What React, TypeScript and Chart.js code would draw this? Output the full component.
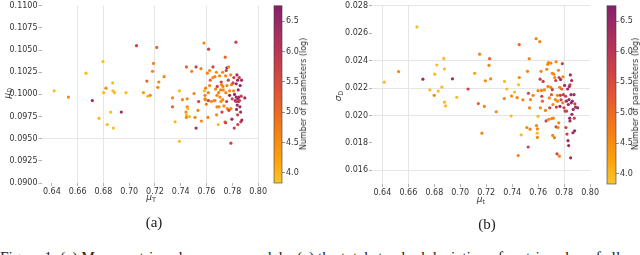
import React, { useEffect, useRef } from 'react';
import { Chart, registerables } from 'chart.js';
Chart.register(...registerables);

// ---------- data ----------
const xTicks = [0.64, 0.66, 0.68, 0.70, 0.72, 0.74, 0.76, 0.78, 0.80];
const aYTicks = [0.09, 0.0925, 0.095, 0.0975, 0.1, 0.1025, 0.105, 0.1075, 0.11];
const bYTicks = [0.016, 0.018, 0.02, 0.022, 0.024, 0.026, 0.028];
const cbTicks = [4.0, 4.5, 5.0, 5.5, 6.0, 6.5];
const cbMin = 3.835;
const cbMax = 6.755;

// (a) mean mu_T vs mu_D, colour = log10 number of parameters
const aMuT = [
  0.6418, 0.6529, 0.6665, 0.6714, 0.6766, 0.6797, 0.6802, 0.682, 0.683, 0.6856, 0.6872, 0.6874, 0.6877, 0.6887,
  0.6939, 0.6975, 0.7057, 0.7111, 0.7137, 0.7145, 0.7163, 0.7181, 0.7189, 0.7214, 0.7222, 0.723, 0.7271, 0.7336,
  0.7336, 0.7356, 0.739, 0.739, 0.7413, 0.7441, 0.7444, 0.7444, 0.7444, 0.745, 0.745, 0.7455, 0.7467, 0.7485,
  0.7503, 0.7511, 0.7519, 0.7519, 0.7534, 0.7539, 0.7557, 0.756, 0.758, 0.7583, 0.7588, 0.7588, 0.7593, 0.7598,
  0.7606, 0.7611, 0.7614, 0.7616, 0.7624, 0.7624, 0.7629, 0.765, 0.765, 0.7658, 0.7665, 0.7665, 0.767, 0.7676,
  0.7678, 0.7681, 0.7683, 0.7691, 0.7694, 0.7696, 0.7701, 0.7704, 0.7709, 0.7714, 0.7717, 0.772, 0.7725, 0.7725,
  0.7727, 0.773, 0.7735, 0.7743, 0.7745, 0.7748, 0.775, 0.7753, 0.7756, 0.7758, 0.7758, 0.7761, 0.7769, 0.7774,
  0.7779, 0.7779, 0.7787, 0.7789, 0.7789, 0.7794, 0.7797, 0.7799, 0.7805, 0.781, 0.7812, 0.7815, 0.7817, 0.7823,
  0.7828, 0.7828, 0.783, 0.783, 0.7833, 0.7836, 0.7838, 0.7841, 0.7841, 0.7843, 0.7843, 0.7846, 0.7848, 0.7851,
  0.7854, 0.7856, 0.7859, 0.7861, 0.7864, 0.7866, 0.7869, 0.7872, 0.7874, 0.7897, 0.7748, 0.7771, 0.7712, 0.7681,
  0.7637, 0.7614, 0.759,
];
const aMuD = [
  0.1004, 0.0997, 0.1024, 0.0993, 0.0973, 0.1037, 0.1002, 0.1007, 0.0966, 0.098, 0.1013, 0.1004, 0.0962, 0.1002,
  0.098, 0.1002, 0.1055, 0.1002, 0.1015, 0.0998, 0.0999, 0.1026, 0.1035, 0.1053, 0.1008, 0.1014, 0.102, 0.0996,
  0.0986, 0.0969, 0.1004, 0.0947, 0.0994, 0.098, 0.0977, 0.0974, 0.1031, 0.0995, 0.0986, 0.0984, 0.0975, 0.1026,
  0.1001, 0.0974, 0.1031, 0.0962, 0.0982, 0.0992, 0.1029, 0.097, 0.1058, 0.1004, 0.0999, 0.0995, 0.1007, 0.0989,
  0.1024, 0.0974, 0.0993, 0.1051, 0.1027, 0.101, 0.1016, 0.1019, 0.1031, 0.0993, 0.0993, 0.102, 0.1006, 0.1025,
  0.0977, 0.0986, 0.1009, 0.0966, 0.1002, 0.0986, 0.1021, 0.0997, 0.1005, 0.1014, 0.1011, 0.098, 0.1025, 0.0994,
  0.1009, 0.1005, 0.0987, 0.0969, 0.1042, 0.0968, 0.1002, 0.1027, 0.0992, 0.103, 0.101, 0.0984, 0.1016, 0.0982,
  0.1004, 0.0999, 0.1022, 0.0984, 0.0945, 0.1011, 0.0972, 0.0995, 0.1013, 0.1004, 0.1019, 0.0962, 0.1, 0.0993,
  0.0992, 0.1059, 0.1012, 0.0997, 0.0983, 0.1022, 0.0988, 0.1016, 0.0977, 0.0995, 0.0966, 0.1005, 0.0992, 0.0997,
  0.1019, 0.0993, 0.0986, 0.101, 0.098, 0.0969, 0.0998, 0.1016, 0.0971, 0.0996, 0.1021, 0.1031, 0.0992, 0.0999,
  0.0992, 0.1002, 0.0994,
];
const aLogN = [
  3.95, 4.6, 3.95, 6.4, 3.95, 3.95, 3.95, 4.6, 3.95, 3.95, 3.95, 3.95, 3.95, 3.95,
  6.3, 3.95, 5.75, 4.3, 5.1, 3.95, 4.6, 4.6, 4.6, 5.1, 4.6, 4.6, 4.6, 4.6,
  5.1, 3.95, 3.95, 3.95, 4.6, 4.6, 3.95, 4.6, 5.1, 4.6, 4.6, 3.95, 3.95, 4.6,
  4.6, 4.6, 5.75, 6.4, 4.6, 5.75, 4.6, 4.6, 4.6, 3.95, 4.6, 4.6, 4.6, 4.6,
  4.6, 4.6, 5.75, 5.75, 4.6, 4.6, 5.1, 4.6, 5.75, 4.6, 4.6, 4.6, 4.6, 4.6,
  4.6, 4.6, 5.75, 3.95, 4.6, 4.6, 4.6, 4.6, 4.6, 5.75, 4.6, 5.75, 4.6, 4.6,
  4.6, 4.6, 4.6, 4.6, 5.1, 5.75, 4.6, 5.75, 5.75, 6.4, 4.6, 4.6, 5.75, 5.75,
  4.6, 6.4, 4.6, 4.6, 5.75, 4.6, 6.4, 5.75, 5.75, 4.6, 5.75, 5.75, 6.4, 6.4,
  5.75, 5.75, 6.4, 6.4, 6.4, 6.4, 6.4, 6.4, 5.75, 6.4, 5.75, 6.4, 6.4, 6.4,
  5.75, 5.75, 6.4, 6.4, 6.4, 5.75, 5.75, 6.4, 6.4, 6.4, 4.6, 4.6, 4.6, 4.6,
  4.6, 4.6, 4.6,
];

// (b) mean mu_t vs sigma_D, colour = log10 number of parameters
const bMuT = [
  0.6415, 0.6525, 0.6666, 0.6712, 0.6766, 0.6799, 0.6804, 0.6819, 0.683, 0.6858, 0.6873, 0.6878, 0.6878, 0.6886,
  0.694, 0.6973, 0.706, 0.7111, 0.7139, 0.7149, 0.7167, 0.7185, 0.7193, 0.7221, 0.7226, 0.7234, 0.7277, 0.7341,
  0.7339, 0.7359, 0.7392, 0.7395, 0.7418, 0.7438, 0.7446, 0.7449, 0.7454, 0.7454, 0.7469, 0.7482, 0.7513, 0.7518,
  0.7523, 0.7525, 0.7531, 0.7533, 0.7538, 0.7541, 0.7561, 0.7584, 0.7587, 0.7592, 0.7594, 0.7594, 0.7599, 0.7599,
  0.7612, 0.7615, 0.7617, 0.7622, 0.7625, 0.7628, 0.7633, 0.7638, 0.7648, 0.7656, 0.7661, 0.7666, 0.7674, 0.7676,
  0.7679, 0.7681, 0.7686, 0.7689, 0.7697, 0.7699, 0.7702, 0.7704, 0.7709, 0.7709, 0.7712, 0.7714, 0.7717, 0.772,
  0.7725, 0.7727, 0.7732, 0.7735, 0.7738, 0.7738, 0.774, 0.7745, 0.7748, 0.775, 0.7753, 0.7756, 0.7758, 0.7761,
  0.7763, 0.7766, 0.7768, 0.7771, 0.7773, 0.7776, 0.7781, 0.7786, 0.7789, 0.7791, 0.7794, 0.7799, 0.7804, 0.7807,
  0.7812, 0.7814, 0.7817, 0.7819, 0.7822, 0.7827, 0.783, 0.7832, 0.7835, 0.7837, 0.784, 0.7843, 0.7845, 0.7848,
  0.785, 0.7853, 0.7855, 0.7858, 0.786, 0.7863, 0.7868, 0.787, 0.7876, 0.7878, 0.7881, 0.7883, 0.7888, 0.7904,
  0.7845,
];
const bSigmaD = [
  0.02243, 0.0232, 0.02646, 0.02265, 0.02186, 0.02147, 0.02301, 0.02368, 0.02178, 0.02207, 0.02416, 0.02339, 0.02097, 0.0207,
  0.02267, 0.02133, 0.02193, 0.02308, 0.02087, 0.02447, 0.01871, 0.02066, 0.02253, 0.02366, 0.02414, 0.02267, 0.02027, 0.02248,
  0.02123, 0.02193, 0.01996, 0.02142, 0.02171, 0.0213, 0.01708, 0.02224, 0.02517, 0.02277, 0.01859, 0.02114, 0.01912, 0.02322,
  0.0177, 0.02162, 0.02414, 0.02056, 0.019, 0.02116, 0.02147, 0.0256, 0.01926, 0.01871, 0.0184, 0.01902, 0.02181, 0.01994,
  0.02538, 0.02265, 0.02056, 0.02322, 0.02183, 0.0214, 0.02104, 0.02248, 0.02186, 0.02037, 0.0196, 0.02337, 0.02373, 0.02212,
  0.02385, 0.01972, 0.02128, 0.02056, 0.02205, 0.02382, 0.02152, 0.01977, 0.02308, 0.02188, 0.01854, 0.0208, 0.0198, 0.02301,
  0.01838, 0.02277, 0.02116, 0.02255, 0.01917, 0.02392, 0.02061, 0.0172, 0.02147, 0.02104, 0.01912, 0.0233, 0.01946, 0.02277,
  0.01703, 0.02205, 0.02066, 0.02147, 0.02262, 0.02114, 0.02193, 0.02378, 0.02092, 0.02282, 0.02152, 0.02056, 0.02219, 0.02032,
  0.0214, 0.01912, 0.02104, 0.02032, 0.01864, 0.02193, 0.01816, 0.0208, 0.0178, 0.02116, 0.02212, 0.0198, 0.0196, 0.02296,
  0.01691, 0.02152, 0.02092, 0.02255, 0.02008, 0.02104, 0.01874, 0.02044, 0.02152, 0.0198, 0.01888, 0.02085, 0.02061, 0.02056,
  0.02224,
];
const bLogN = [
  3.95, 4.6, 3.95, 6.4, 3.95, 4.6, 3.95, 3.95, 3.95, 3.95, 3.95, 3.95, 3.95, 3.95,
  6.4, 3.95, 5.75, 4.3, 5.1, 4.6, 4.6, 4.6, 4.6, 4.6, 5.1, 4.6, 4.6, 3.95,
  4.6, 3.95, 3.95, 4.6, 3.95, 4.6, 4.6, 3.95, 5.1, 4.6, 3.95, 4.6, 4.6, 4.6,
  5.75, 5.75, 4.6, 4.6, 4.6, 4.6, 4.6, 4.6, 4.6, 3.95, 4.6, 4.6, 4.6, 3.95,
  4.6, 5.75, 4.6, 4.6, 4.6, 5.75, 5.1, 5.75, 4.6, 4.6, 5.75, 4.6, 4.6, 4.6,
  4.6, 4.6, 4.6, 5.75, 4.6, 4.6, 5.1, 4.6, 4.6, 5.75, 4.6, 4.6, 4.6, 4.6,
  4.6, 4.6, 4.6, 5.75, 5.75, 4.6, 5.75, 5.75, 4.6, 4.6, 4.6, 4.6, 4.6, 5.75,
  4.6, 4.6, 6.4, 5.75, 6.4, 5.75, 5.1, 5.75, 4.6, 4.6, 5.75, 5.75, 6.4, 5.75,
  5.75, 5.75, 6.4, 5.75, 5.75, 6.4, 6.4, 6.4, 6.4, 6.4, 6.4, 6.4, 6.4, 6.4,
  6.4, 6.4, 6.4, 6.4, 6.4, 6.4, 6.4, 6.4, 6.4, 5.75, 6.4, 5.75, 6.4, 6.4,
  5.75,
];

// ---------- styling ----------
const FONT = 'DejaVu Sans';
const TICK_COLOR = '#333';
const GRID_ON = '#e3e3e3';
const GRID_OFF = 'rgba(0,0,0,0)';

const cmapStops: [number, number[]][] = [
  [0, [249, 197, 44]],
  [0.122, [252, 165, 10]],
  [0.327, [243, 120, 25]],
  [0.531, [221, 81, 58]],
  [0.735, [188, 55, 84]],
  [0.939, [147, 38, 103]],
  [1, [134, 32, 106]],
];

function cmapT(t: number): string {
  t = Math.max(0, Math.min(1, t));
  for (let i = 1; i < cmapStops.length; i++) {
    const [t1, c1] = cmapStops[i];
    const [t0, c0] = cmapStops[i - 1];
    if (t <= t1) {
      const f = (t - t0) / (t1 - t0);
      const c = c0.map((v, k) => Math.round(v + (c1[k] - v) * f));
      return `rgb(${c[0]},${c[1]},${c[2]})`;
    }
  }
  const c = cmapStops[cmapStops.length - 1][1];
  return `rgb(${c[0]},${c[1]},${c[2]})`;
}
const colorOf = (v: number) => cmapT((v - cbMin) / (cbMax - cbMin));

const near = (list: number[], v: number) => list.some((g) => Math.abs(g - v) < 1e-7);

type Area = { left: number; right: number; top: number; bottom: number };

function scatterConfig(
  xs: number[], ys: number[], cs: number[],
  w: number, h: number, area: Area,
  yMin: number, yMax: number, yTicks: number[], yDigits: number,
  xGrid: number[], yGrid: number[],
): any {
  const colors = cs.map(colorOf);
  return {
    type: 'scatter',
    data: {
      datasets: [{
        data: xs.map((x, i) => ({ x, y: ys[i] })),
        backgroundColor: colors,
        borderColor: colors,
        borderWidth: 0,
        pointRadius: 1.6,
      }],
    },
    options: {
      responsive: false,
      maintainAspectRatio: false,
      animation: false,
      layout: { padding: { left: 0, top: area.top, right: w - area.right, bottom: 0 } },
      plugins: { legend: { display: false }, tooltip: { enabled: false } },
      scales: {
        x: {
          type: 'linear', min: 0.632, max: 0.8,
          afterBuildTicks: (s: any) => { s.ticks = xTicks.map((v) => ({ value: v })); },
          afterFit: (s: any) => { s.height = h - area.bottom; },
          ticks: {
            callback: (v: number) => Number(v).toFixed(2),
            font: { family: FONT, size: 8 }, color: TICK_COLOR, padding: 1,
            maxRotation: 0, autoSkip: false,
          },
          grid: {
            color: (c: any) => (c.tick && near(xGrid, c.tick.value) ? GRID_ON : GRID_OFF),
            lineWidth: 0.9, tickLength: 3, tickColor: '#aaa',
          },
          border: { display: false },
        },
        y: {
          type: 'linear', min: yMin, max: yMax,
          afterBuildTicks: (s: any) => { s.ticks = yTicks.map((v) => ({ value: v })); },
          afterFit: (s: any) => { s.width = area.left; },
          ticks: {
            callback: (v: number) => Number(v).toFixed(yDigits),
            font: { family: FONT, size: 8 }, color: TICK_COLOR, padding: 1, autoSkip: false,
          },
          grid: {
            color: (c: any) => (c.tick && near(yGrid, c.tick.value) ? GRID_ON : GRID_OFF),
            lineWidth: 0.9, tickLength: 3, tickColor: '#aaa',
          },
          border: { display: false },
        },
      },
    },
  };
}

function colorbarConfig(w: number, h: number, barLeft: number, barRight: number, top: number, bottom: number): any {
  return {
    type: 'scatter',
    data: { datasets: [] },
    options: {
      responsive: false,
      maintainAspectRatio: false,
      animation: false,
      layout: { padding: { left: barLeft, top, right: 0, bottom: h - bottom } },
      plugins: { legend: { display: false }, tooltip: { enabled: false } },
      scales: {
        x: { display: false },
        y: {
          type: 'linear', position: 'right', min: cbMin, max: cbMax,
          afterBuildTicks: (s: any) => { s.ticks = cbTicks.map((v) => ({ value: v })); },
          afterFit: (s: any) => { s.width = w - barRight; },
          ticks: {
            callback: (v: number) => Number(v).toFixed(1),
            font: { family: FONT, size: 8 }, color: TICK_COLOR, padding: 1, autoSkip: false,
          },
          grid: { drawOnChartArea: false, tickLength: 3, tickColor: '#777', lineWidth: 0.8 },
          border: { display: false },
        },
      },
    },
    plugins: [{
      id: 'cbfill',
      beforeDatasetsDraw(chart: any) {
        const { ctx, chartArea } = chart;
        const { left, right, top: t, bottom: b } = chartArea;
        const g = ctx.createLinearGradient(0, b, 0, t);
        cmapStops.forEach(([s, c]) => g.addColorStop(s, `rgb(${c[0]},${c[1]},${c[2]})`));
        ctx.save();
        ctx.fillStyle = g;
        ctx.fillRect(left, t, right - left, b - t);
        ctx.strokeStyle = 'rgba(60,60,60,0.75)';
        ctx.lineWidth = 0.8;
        ctx.strokeRect(left, t, right - left, b - t);
        ctx.restore();
      },
    }],
  };
}

function ChartCanvas({ config, left, top, width, height }: any) {
  const ref = useRef<HTMLCanvasElement | null>(null);
  useEffect(() => {
    if (!ref.current) return;
    const chart = new Chart(ref.current, config);
    return () => chart.destroy();
  }, []);
  return (
    <canvas
      ref={ref}
      width={width}
      height={height}
      style={{ position: 'absolute', left, top, width, height }}
    />
  );
}

const abs = (x: number, y: number, rot = 0): React.CSSProperties => ({
  position: 'absolute',
  left: x,
  top: y,
  transform: `translate(-50%, -50%)${rot ? ` rotate(${rot}deg)` : ''}`,
  whiteSpace: 'nowrap',
  lineHeight: 1,
});

const mathStyle: React.CSSProperties = { fontFamily: FONT, fontSize: 9, color: '#333' };
const sub: React.CSSProperties = { fontSize: 6.5, fontStyle: 'normal', verticalAlign: -2 };

export default function App() {
  const aCfg = scatterConfig(aMuT, aMuD, aLogN, 268, 205,
    { left: 41.5, right: 259, top: 5, bottom: 183 },
    0.09, 0.11, aYTicks, 4, [0.66, 0.68, 0.72, 0.76, 0.8], [0.095]);
  const bCfg = scatterConfig(bMuT, bSigmaD, bLogN, 280, 205,
    { left: 52, right: 271, top: 3, bottom: 184 },
    0.015, 0.028, bYTicks, 3, [0.64, 0.66, 0.78], [0.028, 0.024, 0.022, 0.02, 0.016]);
  const cbA = colorbarConfig(40, 205, 6, 14, 5, 183);
  const cbB = colorbarConfig(40, 205, 7, 16, 3, 184);

  return (
    <div style={{ position: 'fixed', left: 0, top: 0, width: 640, height: 255, background: '#fff', overflow: 'hidden' }}>
      <ChartCanvas config={aCfg} left={0} top={0} width={268} height={205} />
      <ChartCanvas config={cbA} left={268} top={0} width={40} height={205} />
      <ChartCanvas config={bCfg} left={320} top={0} width={280} height={205} />
      <ChartCanvas config={cbB} left={600} top={0} width={40} height={205} />

      <div style={{ ...abs(8, 93, -90), ...mathStyle }}><i>μ</i><i style={sub}>D</i></div>
      <div style={{ ...abs(151, 198), ...mathStyle }}><i>μ</i><i style={sub}>T</i></div>
      <div style={{ ...abs(339, 96, -90), ...mathStyle }}><i>σ</i><i style={sub}>D</i></div>
      <div style={{ ...abs(481, 200), ...mathStyle }}><i>μ</i><i style={sub}>t</i></div>

      <div style={{ ...abs(303.5, 94, -90), fontFamily: FONT, fontSize: 8, color: '#333' }}>Number of parameters (log)</div>
      <div style={{ ...abs(636, 93.5, -90), fontFamily: FONT, fontSize: 8, color: '#333' }}>Number of parameters (log)</div>

      <div style={{ ...abs(154, 222), fontFamily: 'Liberation Serif', fontSize: 15, color: '#222' }}>(a)</div>
      <div style={{ ...abs(487, 224), fontFamily: 'Liberation Serif', fontSize: 15, color: '#222' }}>(b)</div>

      <div style={{ position: 'absolute', left: 0, top: 249, whiteSpace: 'nowrap', fontFamily: 'Liberation Serif', fontSize: 15.5, color: '#222', lineHeight: '16px' }}>
        Figure 1: (a) Mean metric value across models; (c) the total standard deviation of metric value of all
      </div>
    </div>
  );
}
